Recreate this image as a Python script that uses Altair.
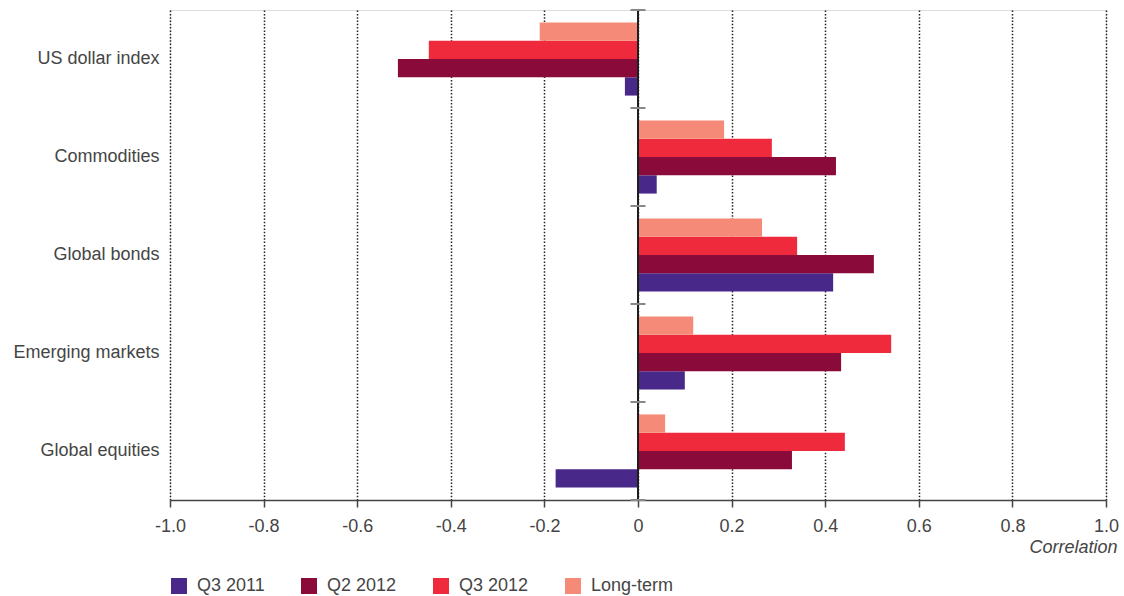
import altair as alt
import pandas as pd

categories = ["US dollar index", "Commodities", "Global bonds", "Emerging markets", "Global equities"]
series = ["Q3 2011", "Q2 2012", "Q3 2012", "Long-term"]
colors = ["#48298A", "#8A0B3A", "#EE2A3C", "#F48A77"]
q3_2011 = [-0.028, 0.040, 0.417, 0.100, -0.176]
q2_2012 = [-0.513, 0.423, 0.504, 0.434, 0.329]
q3_2012 = [-0.447, 0.286, 0.340, 0.541, 0.442]
long_term = [-0.210, 0.184, 0.265, 0.118, 0.058]
x_ticks = [-1.0, -0.8, -0.6, -0.4, -0.2, 0.0, 0.2, 0.4, 0.6, 0.8, 1.0]

rows = []
for s, vals in zip(series, [q3_2011, q2_2012, q3_2012, long_term]):
    for c, v in zip(categories, vals):
        rows.append({"category": c, "series": s, "value": v})
df = pd.DataFrame(rows)
cat_df = pd.DataFrame({"category": categories})
last_df = pd.DataFrame({"category": [categories[-1]]})

FONT = "Liberation Sans"
TXT = "#454545"
FS = 18

yscale = alt.Scale(domain=categories, paddingInner=0, paddingOuter=0)
xscale = alt.Scale(domain=[-1, 1], nice=False, zero=False)

bars = alt.Chart(df).mark_bar().encode(
    x=alt.X("value:Q", scale=xscale,
            axis=alt.Axis(values=x_ticks, grid=True, gridColor="#222222", gridWidth=1.5,
                          gridDash=[1.5, 1.8], domainColor="#444444", domainWidth=1.5,
                          tickColor="#444444", tickSize=7, tickWidth=1.5, labelFlush=False,
                          labelFontSize=FS, labelColor=TXT, labelFont=FONT, labelPadding=10,
                          labelExpr="datum.value == 0 ? '0' : (datum.value < 0 ? '-' : '') + format(abs(datum.value), '.1f')",
                          title="Correlation", titleFont=FONT, titleFontSize=FS,
                          titleFontStyle="italic", titleFontWeight="normal", titleColor=TXT,
                          titleX=947, titleY=52, titleAlign="right", titleBaseline="alphabetic")),
    y=alt.Y("category:N", scale=yscale,
            axis=alt.Axis(domain=False, ticks=False, grid=False, title=None,
                          labelFontSize=FS, labelColor=TXT, labelFont=FONT, labelPadding=11)),
    yOffset=alt.YOffset("series:N", scale=alt.Scale(domain=["Long-term", "Q3 2012", "Q2 2012", "Q3 2011"],
                                                    paddingInner=0, paddingOuter=0.68)),
    color=alt.Color("series:N", scale=alt.Scale(domain=series, range=colors),
                    legend=alt.Legend(title=None, orient="none", legendX=0, legendY=567,
                                      direction="horizontal", symbolType="square", symbolSize=256,
                                      symbolStrokeWidth=0, labelFontSize=FS, labelFont=FONT,
                                      labelColor=TXT, labelOffset=9, columnPadding=35)),
)

zero_line = alt.Chart(cat_df).mark_rule(color="#1e1e1e", strokeWidth=2).encode(
    x=alt.datum(0, scale=xscale),
    y=alt.value(0),
    y2=alt.value(490),
)

band_ticks = alt.Chart(cat_df).mark_rule(color="#888888", strokeWidth=2).encode(
    y=alt.Y("category:N", bandPosition=0, scale=yscale),
    x=alt.datum(-0.016),
    x2=alt.datum(0.016),
)
band_tick_last = alt.Chart(last_df).mark_rule(color="#888888", strokeWidth=2).encode(
    y=alt.Y("category:N", bandPosition=1, scale=yscale),
    x=alt.datum(-0.016),
    x2=alt.datum(0.016),
)

chart = alt.layer(bars, zero_line, band_ticks, band_tick_last).properties(
    width=936, height=490,
    autosize=alt.AutoSizeParams(type="none"),
    padding={"left": 170, "top": 10, "right": 18, "bottom": 96},
).configure_view(stroke=None).configure(background="white")

chart.save("out.html", embed_options={"renderer": "svg", "actions": False})
